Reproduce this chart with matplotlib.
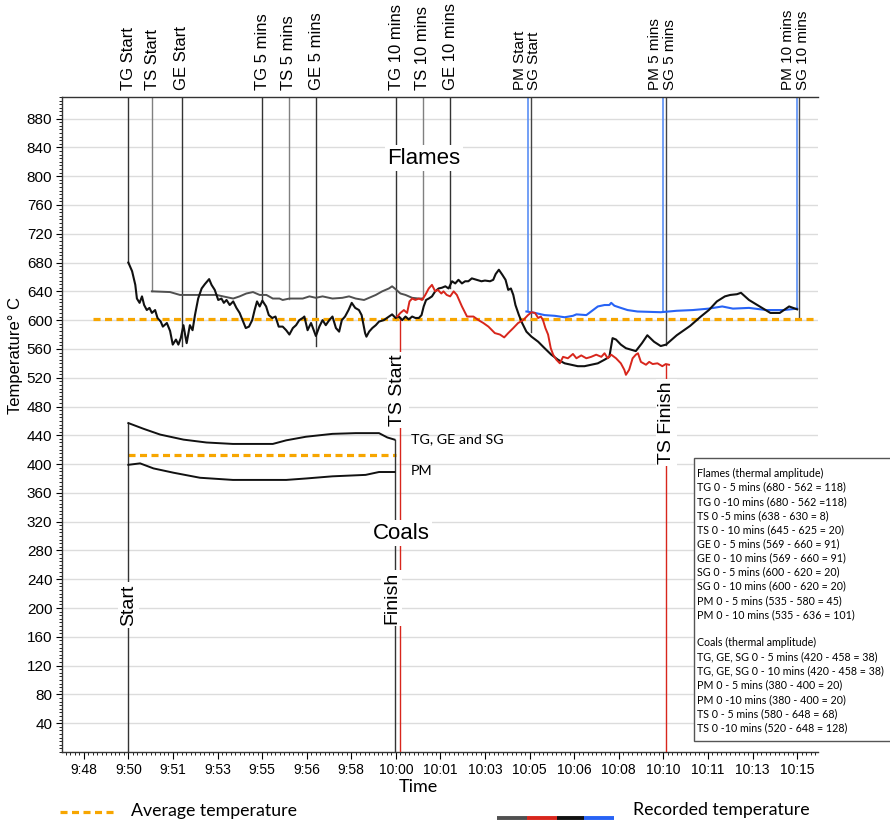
import matplotlib
matplotlib.use("Agg")
import matplotlib.pyplot as plt
from matplotlib.ticker import FixedLocator, MultipleLocator
from matplotlib.lines import Line2D
from matplotlib.patches import Rectangle

# ---------------- data (minutes after 9:50) ----------------
black_t = [0.00, 0.14, 0.26, 0.32, 0.42, 0.51, 0.59, 0.69, 0.79, 0.88, 1.00, 1.09, 1.21, 1.29,
           1.44, 1.56, 1.66, 1.78, 1.87, 1.96, 2.06, 2.12, 2.18, 2.30, 2.40, 2.49, 2.61, 2.74,
           2.86, 3.02, 3.11, 3.23, 3.36, 3.48, 3.57, 3.67, 3.79, 3.92, 4.04, 4.16, 4.29, 4.39,
           4.51, 4.63, 4.72, 4.81, 4.91, 5.01, 5.15, 5.25, 5.38, 5.50, 5.62, 5.77, 5.90, 6.02,
           6.15, 6.27, 6.39, 6.52, 6.58, 6.70, 6.83, 6.95, 7.01, 7.14, 7.26, 7.38, 7.51, 7.63,
           7.76, 7.88, 7.98, 8.10, 8.23, 8.35, 8.48, 8.62, 8.72, 8.85, 8.90, 9.00, 9.12, 9.25,
           9.37, 9.55, 9.74, 9.86, 9.99, 10.11, 10.24, 10.36, 10.48, 10.61, 10.73, 10.86, 10.96,
           11.04, 11.13, 11.23, 11.35, 11.47, 11.60, 11.72, 11.85, 11.97, 12.10, 12.22, 12.34,
           12.47, 12.59, 12.71, 12.84, 13.02, 13.20, 13.33, 13.52, 13.64, 13.73, 13.85, 13.98,
           14.10, 14.20, 14.30, 14.39, 14.47, 14.60, 14.72, 14.88, 15.07, 15.32, 15.56, 15.81,
           16.06, 16.31, 16.56, 16.80, 17.05, 17.30, 17.55, 17.80, 17.98, 18.10, 18.23, 18.41,
           18.60, 18.79, 18.97, 19.20, 19.40, 19.65, 19.90, 20.10, 20.50, 21.00, 21.40, 21.70,
           22.00, 22.30, 22.50, 22.75, 22.90, 23.20, 23.60, 24.00, 24.35, 24.70, 25.00]
black_v = [680, 668, 649, 630, 624, 633, 621, 614, 617, 610, 614, 603, 598, 591,
           596, 585, 566, 573, 566, 575, 593, 580, 568, 593, 586, 607, 630, 644,
           650, 657, 649, 642, 628, 630, 624, 628, 621, 626, 617, 610, 598, 589,
           591, 600, 614, 626, 619, 627, 619, 607, 603, 605, 591, 591, 586, 580,
           589, 593, 600, 603, 605, 586, 596, 584, 578, 591, 600, 593, 600, 605,
           589, 584, 600, 605, 614, 624, 617, 614, 607, 582, 577, 584, 589, 593,
           598, 600, 605, 608, 603, 605, 600, 605, 601, 605, 603, 603, 607,
           619, 628, 630, 633, 640, 644, 645, 647, 644, 654, 651, 656,
           651, 654, 654, 658, 656, 654, 655, 654, 656, 664, 670, 663,
           656, 642, 644, 635, 621, 607, 596, 584, 577, 570, 561, 552,
           545, 540, 538, 536, 536, 538, 540, 545, 549, 575, 573, 566,
           561, 559, 557, 568, 579, 570, 564, 566, 579, 592, 605, 614,
           626, 633, 635, 636, 638, 628, 619, 610, 610, 619, 615]

gray_t = [0.88, 1.56, 1.93, 2.80, 3.30, 3.54, 3.92, 4.16, 4.41, 4.66, 4.91, 5.16, 5.40, 5.65,
          5.77, 6.02, 6.52, 6.77, 7.01, 7.26, 7.63, 8.00, 8.25, 8.50, 8.81, 9.00, 9.25, 9.49,
          9.74, 9.86, 9.99, 10.17, 10.36, 10.61, 10.86, 10.98]
gray_v = [640, 639, 635, 635, 635, 633, 630, 633, 637, 639, 635, 635, 630, 630,
          628, 630, 630, 633, 631, 633, 630, 631, 633, 630, 628, 631, 635, 640,
          644, 647, 643, 637, 635, 631, 630, 630]

red_t = [10.05, 10.17, 10.30, 10.42, 10.51, 10.61, 10.73, 10.86, 10.98, 11.10, 11.23, 11.35,
         11.47, 11.57, 11.70, 11.78, 11.90, 12.03, 12.16, 12.28, 12.47, 12.66, 12.90, 13.09,
         13.27, 13.46, 13.70, 13.89, 14.05, 14.20, 14.39, 14.57, 14.76, 14.94, 15.07, 15.20,
         15.32, 15.42, 15.50, 15.59, 15.69, 15.79, 15.88, 16.00, 16.13, 16.25, 16.43, 16.62,
         16.75, 16.93, 17.12, 17.30, 17.49, 17.68, 17.80, 17.92, 18.05, 18.23, 18.41, 18.54,
         18.60, 18.72, 18.85, 18.97, 19.05, 19.16, 19.35, 19.47, 19.60, 19.78, 19.96, 20.09,
         20.21]
red_v = [605, 610, 614, 610, 626, 630, 628, 630, 628, 635, 644, 649,
         640, 642, 637, 640, 635, 633, 640, 635, 619, 605, 605, 600,
         596, 591, 582, 580, 576, 582, 589, 596, 600, 607, 611, 610,
         603, 605, 600, 589, 580, 561, 552, 545, 540, 549, 547, 553,
         547, 551, 547, 549, 552, 549, 554, 547, 552, 547, 540, 531,
         524, 531, 547, 552, 554, 542, 538, 542, 539, 540, 536, 539,
         538]

blue_t = [14.88, 15.20, 15.56, 15.94, 16.31, 16.62, 16.75, 17.12, 17.30, 17.55, 17.80, 17.98,
          18.05, 18.17, 18.41, 18.66, 19.03, 19.90, 20.50, 21.10, 21.70, 22.20, 22.60, 23.20,
          23.85, 24.50, 25.00]
blue_v = [612, 610, 607, 606, 604, 606, 608, 607, 612, 619, 621, 621,
          624, 620, 617, 614, 612, 611, 613, 614, 616, 619, 616, 617,
          614, 614, 616]

coal_t = [0.00, 0.57, 1.19, 2.06, 2.92, 3.91, 5.40, 5.90, 6.64, 7.63, 8.50, 9.37, 9.68, 9.95]
coal_tg_ge_sg = [457, 449, 441, 434, 430, 428, 428, 433, 438, 442, 443, 443, 437, 434]
coal_pm_t = [0.00, 0.44, 0.94, 1.69, 2.68, 3.91, 5.90, 6.64, 7.63, 8.87, 9.37, 9.95]
coal_pm = [399, 401, 394, 388, 381, 378, 378, 380, 383, 385, 389, 389]

flame_avg = 602
coal_avg = 412

# event markers: label, time, value where the line meets the trace
events = ["TG Start", "TS Start", "GE Start", "TG 5 mins", "TS 5 mins", "GE 5 mins",
          "TG 10 mins", "TS 10 mins", "GE 10 mins"]
event_t = [0.0, 0.9, 2.0, 5.0, 6.0, 7.03, 10.02, 11.0, 12.04]
event_v = [680, 640, 564, 626, 630, 564, 600, 630, 644]
event_dark = [True, False, True, True, False, True, True, False, True]

pm_events = ["PM Start", "PM 5 mins", "PM 10 mins"]
sg_events = ["SG Start", "SG 5 mins", "SG 10 mins"]
pmsg_t = [15.0, 20.05, 25.03]
pmsg_blue_v = [612, 612, 615]
pmsg_black_v = [584, 565, 604]

ts_start_t, ts_start_v = 10.15, 605
ts_finish_t, ts_finish_v = 20.1, 537
coal_finish_t = 9.95

xtick_labels = ["9:48", "9:50", "9:51", "9:53", "9:55", "9:56", "9:58", "10:00", "10:01",
                "10:03", "10:05", "10:06", "10:08", "10:10", "10:11", "10:13", "10:15"]
ytick_values = list(range(40, 881, 40))

notes = ["Flames (thermal amplitude)",
         "TG 0 - 5 mins (680 - 562 = 118)",
         "TG 0 -10 mins (680 - 562 =118)",
         "TS 0 -5 mins (638 - 630 = 8)",
         "TS 0 - 10 mins (645 - 625 = 20)",
         "GE 0 - 5 mins (569 - 660 = 91)",
         "GE 0 - 10 mins (569 - 660 = 91)",
         "SG 0 - 5 mins (600 - 620 = 20)",
         "SG 0 - 10 mins (600 - 620 = 20)",
         "PM 0 - 5 mins (535 - 580 = 45)",
         "PM 0 - 10 mins (535 - 636 = 101)",
         "",
         "Coals (thermal amplitude)",
         "TG, GE, SG 0 - 5 mins (420 - 458 = 38)",
         "TG, GE, SG 0 - 10 mins (420 - 458 = 38)",
         "PM 0 - 5 mins (380 - 400 = 20)",
         "PM 0 -10 mins (380 - 400 = 20)",
         "TS 0 - 5 mins (580 - 648 = 68)",
         "TS 0 -10 mins (520 - 648 = 128)"]

# ---------------- styling ----------------
C_BLACK = "#111111"
C_GRAY = "#505050"
C_RED = "#d8261c"
C_BLUE = "#2763f5"
C_ORANGE = "#f7a600"
ARIAL = ["Liberation Sans", "DejaVu Sans"]
NARROW = ["Liberation Sans Narrow", "Liberation Sans", "DejaVu Sans"]
HUMANIST = ["Lato", "Open Sans", "DejaVu Sans"]

W, H = 890, 824
fig = plt.figure(figsize=(W / 100, H / 100), dpi=100)


def fx(px):
    return px / W


def fy(py):
    return 1 - py / H


ax = fig.add_axes([fx(62), fy(752), fx(818) - fx(62), fy(97) - fy(752)])
ax.set_xlim(-2.48, 25.78)
ax.set_ylim(0, 910)

# grid and ticks
ax.yaxis.set_major_locator(FixedLocator(ytick_values))
ax.yaxis.set_minor_locator(MultipleLocator(5))
ax.grid(axis="y", color="#dcdcdc", lw=1.0, zorder=0)
xt = [-5 / 3 + k * 5 / 3 for k in range(len(xtick_labels))]
ax.xaxis.set_major_locator(FixedLocator(xt))
ax.xaxis.set_minor_locator(MultipleLocator(1 / 6))
ax.set_xticklabels(xtick_labels, family=NARROW, fontsize=10)
for lab in ax.get_yticklabels():
    lab.set_family(NARROW)
ax.tick_params(axis="y", which="major", labelsize=11, length=4, width=0.8, pad=3)
ax.tick_params(axis="y", which="minor", length=2.5, width=0.6)
ax.tick_params(axis="x", which="major", length=5, width=0.8, pad=3)
ax.tick_params(axis="x", which="minor", length=2.5, width=0.6)
ax.spines["right"].set_visible(False)
for s in ("left", "bottom", "top"):
    ax.spines[s].set_color("#333333")
    ax.spines[s].set_linewidth(1.0)

# average temperatures
ax.plot([-1.33, 25.78], [flame_avg] * 2, color=C_ORANGE, lw=2.3, dashes=(2.2, 1.4), zorder=3)
ax.plot([0, coal_finish_t + 0.05], [coal_avg] * 2, color=C_ORANGE, lw=2.3, dashes=(2.2, 1.4), zorder=3)

# event lines from the top of the frame down to the trace
top = 910
xtop = ax.get_xaxis_transform()
for lab, t, v, dark in zip(events, event_t, event_v, event_dark):
    ax.plot([t, t], [top, v], color="#333333" if dark else "#808080", lw=1.0, zorder=2)
    ax.text(t, 1.011, lab, transform=xtop, rotation=90,
            ha="center", va="bottom", fontsize=12, family=ARIAL, clip_on=False)
for pm, sg, t, vb, vk in zip(pm_events, sg_events, pmsg_t, pmsg_blue_v, pmsg_black_v):
    ax.plot([t - 0.05, t - 0.05], [top, vb], color="#5a8ff5", lw=1.2, zorder=2)
    ax.plot([t + 0.05, t + 0.05], [top, vk], color="#444444", lw=1.0, zorder=2)
    ax.text(t - 0.36, 1.011, pm, transform=xtop, rotation=90,
            ha="center", va="bottom", fontsize=11, family=ARIAL, clip_on=False)
    ax.text(t + 0.18, 1.011, sg, transform=xtop, rotation=90,
            ha="center", va="bottom", fontsize=11, family=ARIAL, clip_on=False)

# recorded flame temperatures
ax.plot(gray_t, gray_v, color=C_GRAY, lw=1.4, zorder=4)
ax.plot(black_t, black_v, color=C_BLACK, lw=1.5, zorder=5)
ax.plot(red_t, red_v, color=C_RED, lw=1.4, zorder=6)
ax.plot(blue_t, blue_v, color=C_BLUE, lw=1.5, zorder=4)

# coals
ax.plot(coal_t, coal_tg_ge_sg, color=C_BLACK, lw=1.4, zorder=5)
ax.plot(coal_pm_t, coal_pm, color=C_BLACK, lw=1.4, zorder=5)
ax.plot([0, 0], [0, coal_tg_ge_sg[0]], color="#333333", lw=1.0, zorder=4)
ax.plot([coal_finish_t] * 2, [0, coal_tg_ge_sg[-1]], color="#333333", lw=1.0, zorder=4)

# TS start / finish
ax.plot([ts_start_t] * 2, [0, ts_start_v], color=C_RED, lw=1.0, zorder=4)
ax.plot([ts_finish_t] * 2, [0, ts_finish_v], color=C_RED, lw=1.0, zorder=4)

box = dict(facecolor="white", edgecolor="none", pad=1.5)
ax.text(10.08, 503, "TS Start", rotation=90, ha="center", va="center",
        fontsize=14, family=ARIAL, bbox=box, zorder=7)
ax.text(20.13, 458, "TS Finish", rotation=90, ha="center", va="center",
        fontsize=14, family=ARIAL, bbox=box, zorder=7)
ax.text(0, 204, "Start", rotation=90, ha="center", va="center",
        fontsize=14, family=ARIAL, bbox=box, zorder=7)
ax.text(coal_finish_t - 0.1, 214, "Finish", rotation=90, ha="center", va="center",
        fontsize=14, family=ARIAL, bbox=box, zorder=7)

ax.text(11.05, 825, "Flames", ha="center", va="center", fontsize=16, family=ARIAL,
        bbox=dict(facecolor="white", edgecolor="none", pad=2), zorder=7)
ax.text(10.2, 304, "Coals", ha="center", va="center", fontsize=16, family=ARIAL,
        bbox=dict(facecolor="white", edgecolor="none", pad=2), zorder=7)
ax.text(10.55, 435, "TG, GE and SG", ha="left", va="center", fontsize=10.3, family=HUMANIST)
ax.text(10.55, 390, "PM", ha="left", va="center", fontsize=10.3, family=HUMANIST)

# axis titles
fig.text(fx(418), fy(787), "Time", ha="center", va="center", fontsize=13, family=HUMANIST)
fig.text(fx(16), fy(356), "Temperature° C", rotation=90, ha="center", va="center",
         fontsize=12, family=ARIAL)

# notes box
fig.patches.append(Rectangle((fx(694), fy(741)), fx(900) - fx(694), fy(458) - fy(741),
                             transform=fig.transFigure, facecolor="white",
                             edgecolor="#555555", lw=1.0, zorder=10))
for i, line in enumerate(notes):
    fig.text(fx(697), fy(473 + i * 14.15), line, ha="left", va="center", fontsize=7.7,
             family=HUMANIST, zorder=11)

# bottom key
fig.add_artist(Line2D([fx(60), fx(117)], [fy(812)] * 2, color=C_ORANGE, lw=2.3,
                      dashes=(2.2, 1.4), transform=fig.transFigure))
fig.text(fx(131), fy(811), "Average temperature", ha="left", va="center", fontsize=12.8,
         family=HUMANIST)
seg_x = [497, 527, 557, 584, 614]
for x0, x1, c in zip(seg_x[:-1], seg_x[1:], [C_GRAY, C_RED, C_BLACK, C_BLUE]):
    fig.add_artist(Line2D([fx(x0), fx(x1)], [fy(818)] * 2, color=c, lw=2.8,
                          solid_capstyle="butt", transform=fig.transFigure))
fig.text(fx(633), fy(810), "Recorded temperature", ha="left", va="center", fontsize=12.8,
         family=HUMANIST)

fig.savefig("out.png", dpi=100)
